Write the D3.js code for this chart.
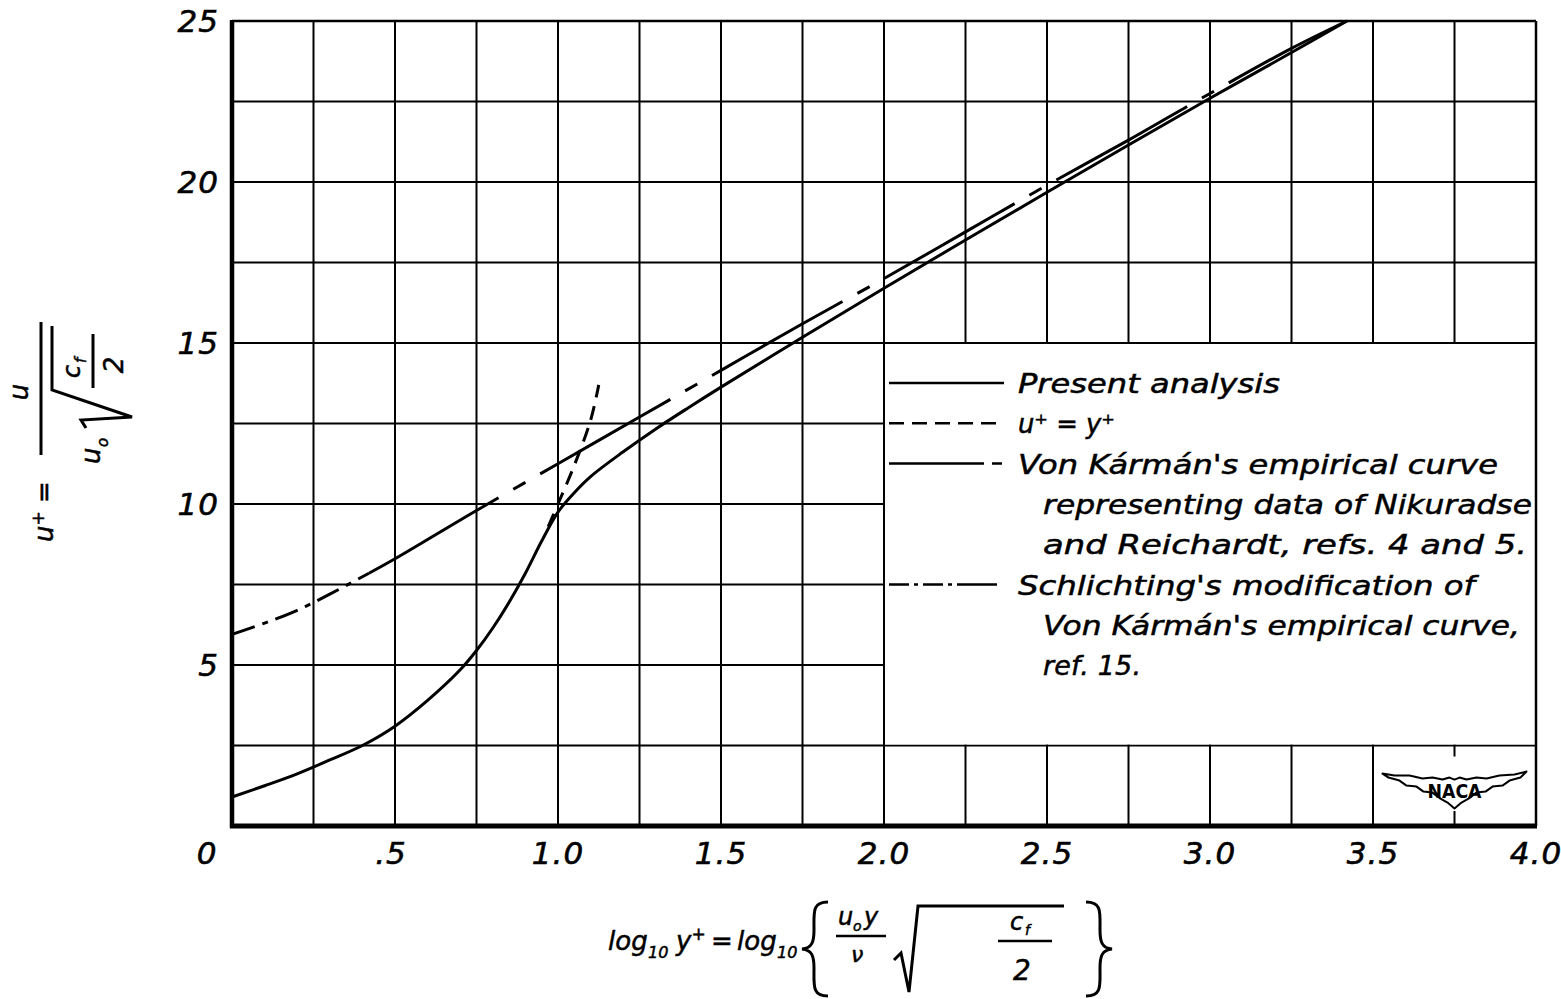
<!DOCTYPE html>
<html>
<head>
<meta charset="utf-8">
<script src="https://cdn.jsdelivr.net/npm/d3@7"></script>
<style>
body{margin:0;background:#fff;}
svg{display:block;font-family:"DejaVu Sans",sans-serif;}
.it{font-style:italic;}
</style>
</head>
<body>
<div id="chart"></div>
<script>
// ---- values ----
const xTicks = [0, 0.5, 1.0, 1.5, 2.0, 2.5, 3.0, 3.5, 4.0];
const xTickLabels = ["0", ".5", "1.0", "1.5", "2.0", "2.5", "3.0", "3.5", "4.0"];
const yTicks = [5, 10, 15, 20, 25];
const yTickLabels = ["5", "10", "15", "20", "25"];

// present analysis (solid)
const presentLogY = [0, 0.1, 0.2, 0.3, 0.4, 0.5, 0.6, 0.7, 0.75, 0.8, 0.85, 0.9, 0.95, 1.0, 1.05, 1.1, 1.2, 1.3, 1.4, 1.5, 1.75, 2.0, 2.25, 2.5, 2.75, 3.0, 3.25, 3.42];
const presentU    = [0.9, 1.25, 1.62, 2.05, 2.5, 3.1, 3.9, 4.85, 5.45, 6.15, 6.95, 7.85, 8.85, 9.75, 10.35, 10.85, 11.62, 12.33, 12.99, 13.63, 15.18, 16.7, 18.2, 19.68, 21.15, 22.6, 24.02, 25.0];

// u+ = y+ (short dashes, only where it leaves the solid curve)
const linearLogY = [0.97, 1.0, 1.05, 1.1, 1.125];
const linearU    = [9.3, 10.0, 11.2, 12.6, 13.7];

// Von Karman empirical curve (long dash / short dash)
const karmanLogY = [0.42, 0.5, 0.75, 1.0, 1.25, 1.5, 1.75, 2.0, 2.25, 2.5, 2.75, 3.0, 3.25, 3.42];
const karmanU    = [7.85, 8.3, 9.8, 11.25, 12.7, 14.15, 15.6, 17.0, 18.45, 19.9, 21.3, 22.75, 24.15, 25.0];

// Schlichting's modification (dash-dot)
const schlichtingLogY = [0, 0.1, 0.2, 0.3, 0.42];
const schlichtingU    = [5.95, 6.3, 6.7, 7.2, 7.85];

const legendItems = [
  {text: "Present analysis", dash: null},
  {text: "u⁺ = y⁺", dash: "15,8"},
  {text: "Von Kármán's empirical curve", dash: "95,8,10,20"},
  {text: "representing data of Nikuradse", dash: "none", indent: true},
  {text: "and Reichardt, refs. 4 and 5.", dash: "none", indent: true},
  {text: "Schlichting's modification of", dash: "20,5,4,5,20,5,4,5,40"},
  {text: "Von Kármán's empirical curve,", dash: "none", indent: true},
  {text: "ref. 15.", dash: "none", indent: true}
];
const legendWidths = [262, 97, 480, 489, 484, 457, 477, 98];

// ---- layout ----
const W = 1561, H = 999;
const x = d3.scaleLinear().domain([0, 4]).range([232, 1536]);
const y = d3.scaleLinear().domain([0, 25]).range([826, 21]);

const svg = d3.select("#chart").append("svg")
  .attr("width", W).attr("height", H);

// grid
const grid = svg.append("g").attr("stroke", "#000").attr("stroke-width", 2);
grid.selectAll(".vg").data(d3.range(0.25, 4, 0.25)).join("line")
  .attr("x1", d => x(d)).attr("x2", d => x(d))
  .attr("y1", y(0)).attr("y2", y(25));
grid.selectAll(".hg").data(d3.range(2.5, 25, 2.5)).join("line")
  .attr("x1", x(0)).attr("x2", x(4))
  .attr("y1", d => y(d)).attr("y2", d => y(d));

// blank legend panel (inside the grid cell block 2.0..4.0 x 2.5..15)
svg.append("rect")
  .attr("x", x(2.0) + 1).attr("y", y(15) + 1)
  .attr("width", x(4) - x(2.0) - 2).attr("height", y(2.5) - y(15) - 2)
  .attr("fill", "#fff");

// frame
svg.append("line").attr("x1", x(0)).attr("x2", x(4)).attr("y1", y(25)).attr("y2", y(25))
  .attr("stroke", "#000").attr("stroke-width", 2.5);
svg.append("line").attr("x1", x(4)).attr("x2", x(4)).attr("y1", y(25)).attr("y2", y(0))
  .attr("stroke", "#000").attr("stroke-width", 2.5);
svg.append("line").attr("x1", x(0)).attr("x2", x(0)).attr("y1", y(25) - 1).attr("y2", y(0) + 2)
  .attr("stroke", "#000").attr("stroke-width", 4.5);
svg.append("line").attr("x1", x(0) - 2).attr("x2", x(4) + 1).attr("y1", y(0)).attr("y2", y(0))
  .attr("stroke", "#000").attr("stroke-width", 5);

// tick labels
svg.append("g").selectAll("text").data(xTicks).join("text")
  .attr("class", "it")
  .attr("x", (d, i) => i === 0 ? x(d) - 25 : x(d) - (i === 1 ? 4 : 0))
  .attr("y", 864)
  .attr("text-anchor", "middle")
  .attr("font-size", 31)
  .attr("letter-spacing", 1)
  .attr("stroke", "#000").attr("stroke-width", 0.6)
  .text((d, i) => xTickLabels[i]);

svg.append("g").selectAll("text").data(yTicks).join("text")
  .attr("class", "it")
  .attr("x", 219)
  .attr("y", d => y(d) + 11)
  .attr("text-anchor", "end")
  .attr("font-size", 31)
  .attr("letter-spacing", 1)
  .attr("stroke", "#000").attr("stroke-width", 0.6)
  .text((d, i) => yTickLabels[i]);

// curves
const line = d3.line().x(d => x(d[0])).y(d => y(d[1])).curve(d3.curveCatmullRom.alpha(0.5));
const curves = svg.append("g").attr("fill", "none").attr("stroke", "#000")
  .attr("stroke-width", 3).attr("stroke-linecap", "butt");

curves.append("path")
  .attr("d", line(d3.zip(presentLogY, presentU)));
curves.append("path")
  .attr("d", line(d3.zip(linearLogY, linearU)))
  .attr("stroke-dasharray", "14,9");
curves.append("path")
  .attr("d", line(d3.zip(karmanLogY, karmanU)))
  .attr("stroke-dasharray", "150,17,14,17");
curves.append("path")
  .attr("d", line(d3.zip(schlichtingLogY, schlichtingU)))
  .attr("stroke-dasharray", "24,8,6,8");

// legend
const lg = svg.append("g");
const rowY = i => 383 + i * 40.3;
legendItems.forEach((it, i) => {
  if (it.dash !== "none") {
    lg.append("line")
      .attr("x1", 889).attr("x2", 1004)
      .attr("y1", rowY(i)).attr("y2", rowY(i))
      .attr("stroke", "#000").attr("stroke-width", 2.5)
      .attr("stroke-dasharray", it.dash);
  }
  lg.append("text")
    .attr("class", "it")
    .attr("x", it.indent ? 1043 : 1018)
    .attr("y", rowY(i) + 10)
    .attr("font-size", 27)
    .attr("stroke", "#000").attr("stroke-width", 0.5)
    .attr("textLength", legendWidths[i])
    .attr("lengthAdjust", i === 7 ? "spacing" : "spacingAndGlyphs")
    .text(it.text);
});

// NACA badge
const bx = x(3.75), by = y(1.1);
svg.append("rect").attr("x", bx - 76).attr("y", y(2.5) + 11)
  .attr("width", 152).attr("height", y(0) - y(2.5) - 26).attr("fill", "#fff");
const wing = [[-72,-17],[-60,-15],[-45,-15],[-32,-12],[-22,-13],[-12,-11],[-5,-13],[0,-11],[5,-13],[12,-11],[22,-13],[32,-12],[45,-15],[60,-16],[72,-19],
  [66,-13],[55,-10],[48,-5],[38,-4],[31,1],[22,2],[14,8],[7,12],[0,18],
  [-7,12],[-14,8],[-22,2],[-31,1],[-38,-4],[-48,-5],[-55,-10],[-66,-13]];
svg.append("path")
  .attr("d", "M" + wing.map(p => (bx + p[0]) + "," + (by + p[1])).join("L") + "Z")
  .attr("fill", "#fff").attr("stroke", "#000").attr("stroke-width", 2)
  .attr("stroke-linejoin", "round");
svg.append("text").attr("x", bx).attr("y", by + 7)
  .attr("text-anchor", "middle").attr("font-size", 19).attr("font-weight", "bold")
  .attr("textLength", 54).attr("lengthAdjust", "spacingAndGlyphs")
  .text("NACA");

// y axis label (rotated)
const yl = svg.append("g").attr("transform", "translate(100,450) rotate(-90)")
  .attr("class", "it").attr("font-size", 26)
  .attr("stroke", "#000").attr("stroke-width", 0.5);
const t1 = yl.append("text").attr("x", -92).attr("y", -47);
t1.append("tspan").text("u");
t1.append("tspan").attr("font-size", 17).attr("dy", -9).text("+");
t1.append("tspan").attr("dy", 9).text(" =");
yl.append("line").attr("x1", -5).attr("x2", 128).attr("y1", -59).attr("y2", -59)
  .attr("stroke-width", 3);
yl.append("text").attr("x", 58).attr("y", -72).attr("text-anchor", "middle").text("u");
yl.append("text").attr("x", -14).attr("y", 0).text("u");
yl.append("text").attr("x", 3).attr("y", 8).attr("font-size", 15).text("o");
yl.append("path").attr("d", "M22,-14 L30,-19 L33,32 L60,-48 L124,-48")
  .attr("fill", "none").attr("stroke-width", 3)
  .attr("stroke-linejoin", "miter");
yl.append("text").attr("x", 72).attr("y", -20).attr("font-size", 24).text("c");
yl.append("text").attr("x", 87).attr("y", -14).attr("font-size", 15).text("f");
yl.append("line").attr("x1", 62).attr("x2", 116).attr("y1", -7).attr("y2", -7)
  .attr("stroke-width", 3);
yl.append("text").attr("x", 85).attr("y", 23).attr("text-anchor", "middle").text("2");

// x axis label
const xl = svg.append("g").attr("class", "it").attr("font-size", 26)
  .attr("stroke", "#000").attr("stroke-width", 0.5);
xl.append("text").attr("x", 608).attr("y", 950).text("log");
xl.append("text").attr("x", 648).attr("y", 958).attr("font-size", 16).text("10");
const ty = xl.append("text").attr("x", 676).attr("y", 950);
ty.append("tspan").text("y");
ty.append("tspan").attr("font-size", 17).attr("dy", -10).text("+");
xl.append("text").attr("x", 711).attr("y", 950).text("=");
xl.append("text").attr("x", 737).attr("y", 950).text("log");
xl.append("text").attr("x", 777).attr("y", 958).attr("font-size", 16).text("10");
xl.append("path").attr("d", "M828,902 C812,902 814,912 814,930 C814,942 812,948 802,949 C812,950 814,956 814,968 C814,986 812,996 828,996")
  .attr("fill", "none").attr("stroke-width", 3);
xl.append("text").attr("x", 838).attr("y", 925).attr("font-size", 24).text("u");
xl.append("text").attr("x", 853).attr("y", 931).attr("font-size", 14).text("o");
xl.append("text").attr("x", 864).attr("y", 925).attr("font-size", 24).text("y");
xl.append("line").attr("x1", 836).attr("x2", 886).attr("y1", 936).attr("y2", 936)
  .attr("stroke-width", 2.5);
xl.append("text").attr("x", 851).attr("y", 962).attr("font-size", 22).text("ν");
xl.append("path").attr("d", "M894,960 L901,953 L909,992 L918,906 L1064,906")
  .attr("fill", "none").attr("stroke-width", 3);
xl.append("text").attr("x", 1010).attr("y", 930).attr("font-size", 24).text("c");
xl.append("text").attr("x", 1025).attr("y", 935).attr("font-size", 14).text("f");
xl.append("line").attr("x1", 998).attr("x2", 1052).attr("y1", 941).attr("y2", 941)
  .attr("stroke-width", 2.5);
xl.append("text").attr("x", 1022).attr("y", 980).attr("text-anchor", "middle").attr("font-size", 28).text("2");
xl.append("path").attr("d", "M1086,902 C1102,902 1100,912 1100,930 C1100,942 1102,948 1112,949 C1102,950 1100,956 1100,968 C1100,986 1102,996 1086,996")
  .attr("fill", "none").attr("stroke-width", 3);
</script>
</body>
</html>
